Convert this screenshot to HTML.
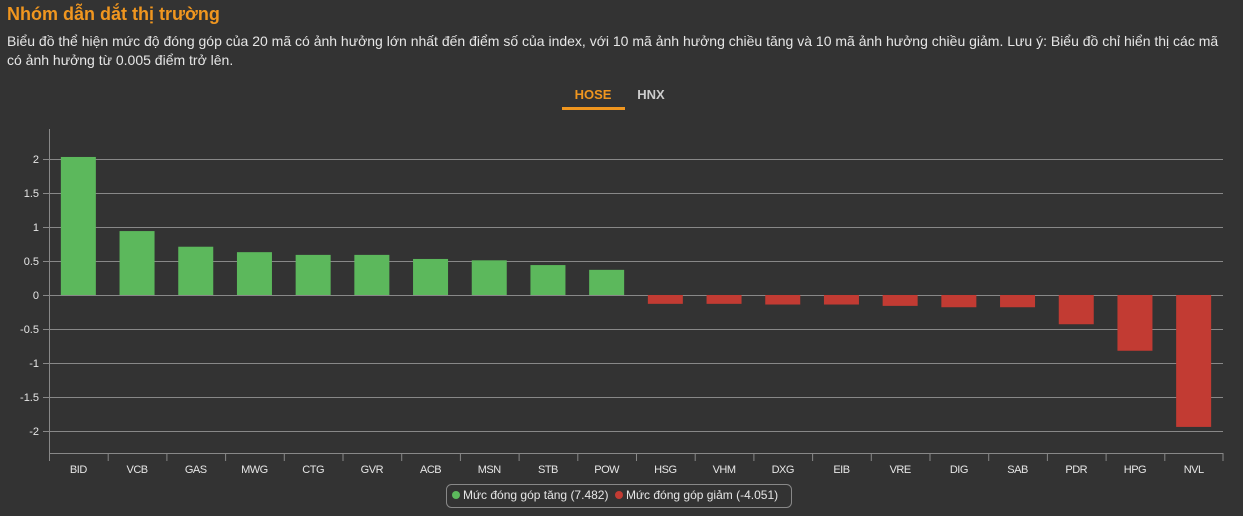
<!DOCTYPE html>
<html><head><meta charset="utf-8"><style>
body{margin:0;background:#333333;width:1243px;height:516px;overflow:hidden;font-family:"Liberation Sans",Arial,sans-serif;}
.t{position:absolute;left:7px;top:4px;color:#f0961f;font-size:18px;font-weight:bold;}
.d{position:absolute;left:7px;top:32px;width:1232px;color:#e6e6e6;font-size:14px;line-height:19px;}
</style></head><body>
<div class="t">Nhóm dẫn dắt thị trường</div>
<div class="d">Biểu đồ thể hiện mức độ đóng góp của 20 mã có ảnh hưởng lớn nhất đến điểm số của index, với 10 mã ảnh hưởng chiều tăng và 10 mã ảnh hưởng chiều giảm. Lưu ý: Biểu đồ chỉ hiển thị các mã<br>có ảnh hưởng từ 0.005 điểm trở lên.</div>
<svg width="1243" height="516" style="position:absolute;left:0;top:0" font-family="Liberation Sans, Arial, sans-serif">
<text x="593" y="99" fill="#f0961f" font-size="13" font-weight="bold" text-anchor="middle">HOSE</text>
<text x="651" y="99" fill="#cccccc" font-size="13" font-weight="bold" text-anchor="middle">HNX</text>
<rect x="562" y="107" width="63" height="3" fill="#f0961f"/>
<g stroke="#888" stroke-width="1">
<line x1="43" y1="159.5" x2="1223" y2="159.5"/>
<line x1="43" y1="193.5" x2="1223" y2="193.5"/>
<line x1="43" y1="227.5" x2="1223" y2="227.5"/>
<line x1="43" y1="261.5" x2="1223" y2="261.5"/>
<line x1="43" y1="295.5" x2="1223" y2="295.5"/>
<line x1="43" y1="329.5" x2="1223" y2="329.5"/>
<line x1="43" y1="363.5" x2="1223" y2="363.5"/>
<line x1="43" y1="397.5" x2="1223" y2="397.5"/>
<line x1="43" y1="431.5" x2="1223" y2="431.5"/>
<line x1="49.5" y1="129" x2="49.5" y2="454"/>
<line x1="49" y1="453.5" x2="1223" y2="453.5"/>
</g>
<g fill="#e6e6e6" font-size="11" text-anchor="end">
<text x="39" y="163">2</text><text x="39" y="197">1.5</text><text x="39" y="231">1</text><text x="39" y="265">0.5</text><text x="39" y="299">0</text><text x="39" y="333">-0.5</text><text x="39" y="367">-1</text><text x="39" y="401">-1.5</text><text x="39" y="435">-2</text>
</g>
<g id="bars"></g>
<g id="ticks" stroke="#888"></g>
<g id="labs" fill="#e6e6e6" font-size="11" text-anchor="middle" letter-spacing="-0.5"></g>
<rect x="446.5" y="484.5" width="345" height="23" rx="5" fill="none" stroke="#888"/>
<circle cx="456" cy="495" r="4" fill="#5cb85c"/>
<text x="463" y="499" fill="#e6e6e6" font-size="12">Mức đóng góp tăng (7.482)</text>
<circle cx="619" cy="495" r="4" fill="#c23b33"/>
<text x="626" y="499" fill="#e6e6e6" font-size="12">Mức đóng góp giảm (-4.051)</text>
</svg>
<script>
var n=["BID","VCB","GAS","MWG","CTG","GVR","ACB","MSN","STB","POW","HSG","VHM","DXG","EIB","VRE","DIG","SAB","PDR","HPG","NVL"];
var v=[2.03,0.94,0.71,0.63,0.59,0.59,0.53,0.51,0.44,0.37,-0.13,-0.13,-0.14,-0.14,-0.16,-0.18,-0.18,-0.43,-0.82,-1.94];
var w=58.7,s="",t="",l="";
for(var i=0;i<20;i++){var c=49+w*i+w/2,h=v[i]*68,y=v[i]>0?295-h:295,hh=Math.abs(h);
s+='<rect x="'+(c-17.5)+'" y="'+y+'" width="35" height="'+hh+'" fill="'+(v[i]>0?"#5cb85c":"#c23b33")+'"/>';
t+='<line x1="'+(49.5+w*i)+'" y1="453" x2="'+(49.5+w*i)+'" y2="461"/>';
l+='<text x="'+c+'" y="473">'+n[i]+'</text>';}
t+='<line x1="1223" y1="453" x2="1223" y2="461"/>';
document.getElementById("bars").innerHTML=s;document.getElementById("ticks").innerHTML=t;document.getElementById("labs").innerHTML=l;
</script>
</body></html>
